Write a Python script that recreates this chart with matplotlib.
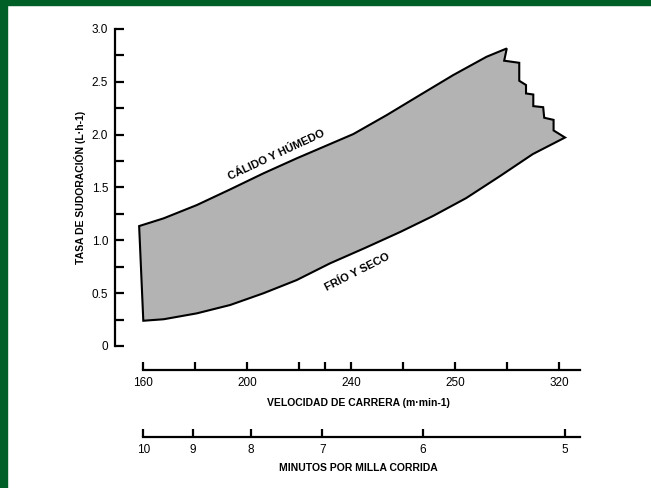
import matplotlib.pyplot as plt
from matplotlib.patches import Rectangle

# positions on the speed scale are in "tick steps" (one step ~ 52 px in the picture)
speed_ticks = [0, 1, 2, 3, 3.5, 4, 5, 6, 7, 8]
speed_label_pos = [0, 2, 4, 6, 8]
speed_labels = ["160", "200", "240", "250", "320"]

pace_pos = [0, 0.96, 2.07, 3.44, 5.37, 8.1]
pace_labels = ["10", "9", "8", "7", "6", "5"]

# upper curve (calido y humedo), left to right
hot_x = [-0.08, 0.39, 1.03, 1.67, 2.31, 2.95, 3.59, 4.04, 4.68, 5.32, 5.96, 6.60, 6.99]
hot_y = [1.135, 1.208, 1.334, 1.482, 1.634, 1.776, 1.911, 2.006, 2.185, 2.375, 2.564, 2.737, 2.816]

# jagged right edge, top to bottom
edge_x = [6.94, 7.23, 7.23, 7.36, 7.36, 7.50, 7.50, 7.69, 7.71, 7.89, 7.89]
edge_y = [2.70, 2.68, 2.51, 2.47, 2.39, 2.38, 2.27, 2.26, 2.16, 2.14, 2.04]

# lower curve (frio y seco), left to right
cold_x = [0.0, 0.39, 1.03, 1.67, 2.31, 2.95, 3.59, 4.26, 4.94, 5.57, 6.21, 6.86, 7.49, 8.11]
cold_y = [0.239, 0.253, 0.309, 0.388, 0.499, 0.624, 0.782, 0.927, 1.079, 1.230, 1.400, 1.608, 1.816, 1.973]

plt.rcParams['font.family'] = ['Liberation Sans', 'DejaVu Sans']
cond = ['Liberation Sans Narrow', 'Liberation Sans', 'DejaVu Sans']

fig = plt.figure(figsize=(6.51, 4.88), dpi=100)
W, H = 651.0, 488.0

# green frame strips
fig.patches.append(Rectangle((0, 1 - 5 / H), 1, 5 / H, transform=fig.transFigure,
                             color='#005f27', zorder=10))
fig.patches.append(Rectangle((0, 0), 7 / W, 1, transform=fig.transFigure,
                             color='#005f27', zorder=10))

px = 52.0
x0 = 143.3
xl = (115 - x0) / px
xr = (600 - x0) / px
left = 115 / W
width = 485 / W

ax = fig.add_axes([left, (H - 346) / H, width, (346 - 29) / H])
ax.set_xlim(xl, xr)
ax.set_ylim(0, 3)
for s in ['top', 'right', 'bottom']:
    ax.spines[s].set_visible(False)
ax.spines['left'].set_linewidth(1.6)
ax.set_xticks([])
ax.set_yticks([0, 0.5, 1.0, 1.5, 2.0, 2.5, 3.0])
ax.set_yticklabels(["0", "0.5", "1.0", "1.5", "2.0", "2.5", "3.0"])
ax.set_yticks([0.25, 0.75, 1.25, 1.75, 2.25, 2.75], minor=True)
ax.tick_params(axis='y', which='both', direction='in', length=6.5, width=1.6,
               labelsize=8.5, pad=5)
ax.set_ylabel("TASA DE SUDORACIÓN (L·h-1)", family=cond, fontweight='bold',
              fontsize=7.5, labelpad=4)

poly_x = hot_x + edge_x + cold_x[::-1]
poly_y = hot_y + edge_y + cold_y[::-1]
ax.fill(poly_x, poly_y, facecolor='#b3b3b3', edgecolor='black', linewidth=1.5,
        joinstyle='miter', clip_on=False)

ax.text((276 - x0) / px, (346 - 155) / 105.7, "CÁLIDO Y HÚMEDO", rotation=25,
        ha='center', va='center', family=cond, fontweight='bold', fontsize=8)
ax.text((357 - x0) / px, (346 - 272) / 105.7, "FRÍO Y SECO", rotation=27,
        ha='center', va='center', family=cond, fontweight='bold', fontsize=8)


def scale_axis(ypix, ticks, label_pos, labels, title, title_y):
    a = fig.add_axes([left, (H - ypix) / H, width, 0.001])
    a.set_xlim(xl, xr)
    a.set_yticks([])
    for s in ['top', 'right', 'left']:
        a.spines[s].set_visible(False)
    a.spines['bottom'].set_bounds(0, 8.4)
    a.spines['bottom'].set_linewidth(1.6)
    a.patch.set_visible(False)
    a.set_xticks(ticks)
    a.set_xticklabels([labels[label_pos.index(t)] if t in label_pos else "" for t in ticks])
    a.tick_params(axis='x', direction='in', length=6, width=1.6, labelsize=8.5, pad=5)
    fig.text(358 / W, (H - title_y) / H, title, ha='center', va='center',
             family=cond, fontweight='bold', fontsize=7.5)


scale_axis(370, speed_ticks, speed_label_pos, speed_labels,
           "VELOCIDAD DE CARRERA (m·min-1)", 403)
scale_axis(437, pace_pos, pace_pos, pace_labels,
           "MINUTOS POR MILLA CORRIDA", 468)

fig.savefig("out.png", dpi=100)
